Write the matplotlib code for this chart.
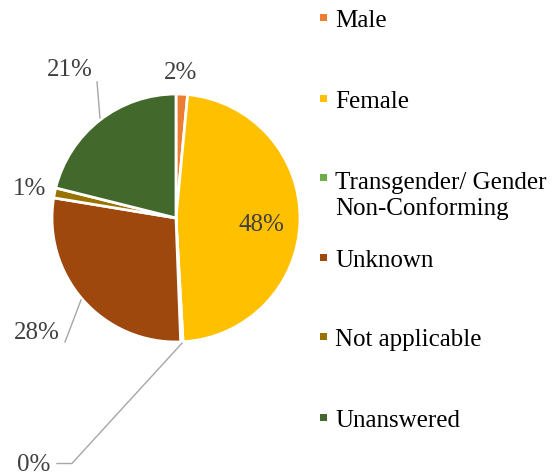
import matplotlib
matplotlib.use("Agg")
import matplotlib.pyplot as plt
from matplotlib.patches import Rectangle

plt.rcParams['font.family'] = ['Liberation Serif', 'DejaVu Serif']

categories = ["Male", "Female", "Transgender/ Gender\nNon-Conforming",
              "Unknown", "Not applicable", "Unanswered"]
shares = [1.5, 47.6, 0.3, 28.2, 1.3, 21.1]
pct_labels = ["2%", "48%", "0%", "28%", "1%", "21%"]
colors = ["#ED7D31", "#FFC000", "#70AD47", "#9E480E", "#997300", "#43682B"]

W, H = 556, 475
fig = plt.figure(figsize=(W / 100, H / 100), dpi=100)

# pie centre (176, 218) px from top-left, radius 124 px
cx, cy, r = 176, 218, 124
ax = fig.add_axes([(cx - r) / W, (H - cy - r) / H, 2 * r / W, 2 * r / H])
ax.pie(shares, colors=colors, startangle=90, counterclock=False,
       wedgeprops=dict(edgecolor="white", linewidth=2))
ax.set_xlim(-1, 1)
ax.set_ylim(-1, 1)
ax.set_aspect("equal")
ax.axis("off")

# data label positions (in radius units) and leader lines
label_pos = [(0.04, 1.17), (0.69, -0.06), (-1.15, -1.99),
             (-1.12, -0.93), (-1.18, 0.23), (-0.86, 1.19)]
leaders = {
    2: [(0.048, -1.01), (-0.84, -1.98), (-0.96, -1.98)],
    3: [(-0.766, -0.661), (-0.895, -1.0)],
    5: [(-0.613, 0.806), (-0.637, 1.097)],
}
for i, txt in enumerate(pct_labels):
    x, y = label_pos[i]
    ax.text(x, y, txt, ha="center", va="center", fontsize=18, color="#404040")
for pts in leaders.values():
    xs, ys = zip(*pts)
    ax.plot(xs, ys, color="#A6A6A6", lw=1, clip_on=False)

# legend drawn by hand (baseline y of last line, px from top)
leg_base = [27, 108, 215, 267, 346, 427]
for name, col, b in zip(categories, colors, leg_base):
    fig.text(335 / W, (H - b) / H, name, ha="left", va="baseline",
             fontsize=18, color="black", linespacing=1.15)
    nlines = name.count("\n")
    mb = b - 28 * nlines
    fig.patches.append(Rectangle((320 / W, (H - mb + 6) / H), 7 / W, 7 / H,
                                 transform=fig.transFigure, facecolor=col,
                                 edgecolor="none"))

fig.savefig("out.png", dpi=100)
